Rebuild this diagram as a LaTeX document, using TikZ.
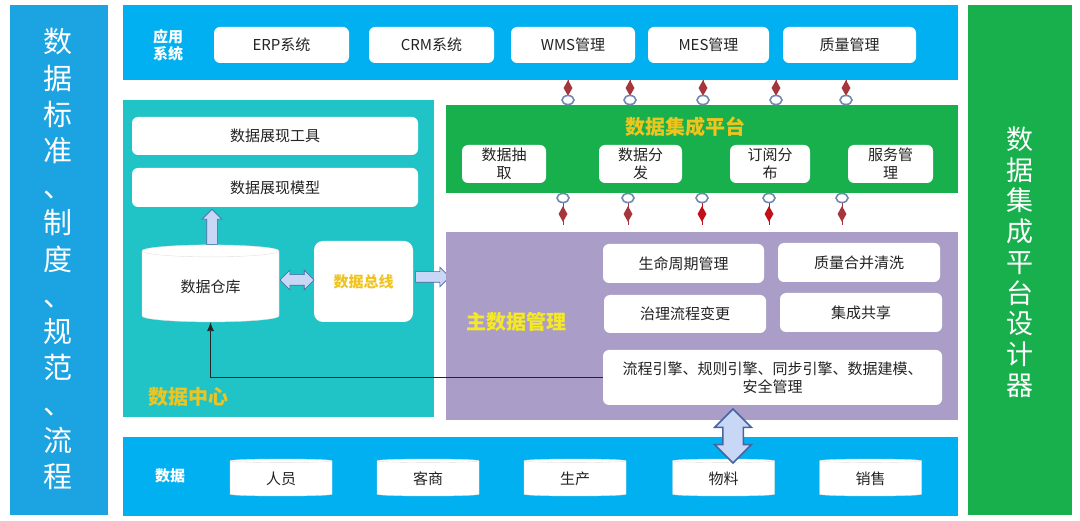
\documentclass[tikz,border=0pt]{standalone}
\usepackage{fontspec}
\setmainfont{Noto Sans CJK SC}
\usetikzlibrary{shapes.geometric,shapes.arrows,arrows.meta}
\definecolor{leftblue}{RGB}{27,163,226}
\definecolor{barblue}{RGB}{0,176,240}
\definecolor{greenA}{RGB}{24,176,76}
\definecolor{tealA}{RGB}{32,196,198}
\definecolor{purpA}{RGB}{170,158,200}
\definecolor{goldA}{RGB}{240,196,30}
\definecolor{yelA}{RGB}{245,232,40}
\definecolor{dredA}{RGB}{165,55,60}
\definecolor{bredA}{RGB}{195,15,25}
\definecolor{ringA}{RGB}{115,136,176}
\definecolor{arrfill}{RGB}{200,215,245}
\definecolor{arrline}{RGB}{70,100,160}
\definecolor{txtA}{RGB}{35,35,35}
\tikzset{
  wbox/.style={fill=white, rounded corners=6pt, align=center, inner sep=0pt, text=txtA, font=\fontsize{15}{18}\selectfont},
  panel/.style={inner sep=0pt, anchor=north west},
  dia/.style={diamond, inner sep=0pt, minimum width=9pt, minimum height=16pt},
  ringnode/.style={ellipse, draw=ringA, line width=1.6pt, fill=white, inner sep=0pt, minimum width=12pt, minimum height=9pt},
  cyl/.style={cylinder, shape border rotate=90, fill=white, draw=black!12, inner sep=0pt, text=txtA, font=\fontsize{15}{18}\selectfont},
  fatarrow/.style={fill=arrfill, draw=arrline, line width=0.6pt},
  titletxt/.style={font=\fontsize{20}{22}\selectfont\bfseries},
  smalltitle/.style={font=\fontsize{15}{17}\selectfont\bfseries, text=white, align=center}
}
\begin{document}
\begin{tikzpicture}[x=1pt,y=-1pt]
\useasboundingbox (0,0) rectangle (1080,521);
\fill[white] (0,0) rectangle (1080,521);
% side bars
\node[panel, fill=leftblue, minimum width=98pt, minimum height=510pt] (lbar) at (10,5) {};
\node[text=white, align=center, font=\fontsize{29}{36.2}\selectfont] (ltxt) at (58,259) {数\\据\\标\\准\\、\\制\\度\\、\\规\\范\\、\\流\\程};
\node[panel, fill=greenA, minimum width=104pt, minimum height=510pt] (rbar) at (968,5) {};
\node[text=white, align=center, font=\fontsize{27}{30.75}\selectfont] (rtxt) at (1020,262) {数\\据\\集\\成\\平\\台\\设\\计\\器};
% top bar
\node[panel, fill=barblue, minimum width=835pt, minimum height=75pt] (top) at (123,5) {};
\node[smalltitle] (toplab) at (168,45) {应用\\系统};
\node[wbox, minimum width=135pt, minimum height=36pt] (erp) at (281.5,45) {ERP系统};
\node[wbox, minimum width=125pt, minimum height=36pt] (crm) at (431.5,45) {CRM系统};
\node[wbox, minimum width=124pt, minimum height=36pt] (wms) at (573,45) {WMS管理};
\node[wbox, minimum width=121pt, minimum height=36pt] (mes) at (708.5,45) {MES管理};
\node[wbox, minimum width=133pt, minimum height=36pt] (qm) at (849.5,45) {质量管理};
% data center
\node[panel, fill=tealA, minimum width=311pt, minimum height=317pt] (dc) at (123,100) {};
\node[wbox, minimum width=286pt, minimum height=38pt] (tool) at (275,136) {数据展现工具};
\node[wbox, minimum width=286pt, minimum height=39pt] (model) at (275,187.5) {数据展现模型};
\node[cyl, minimum width=137pt, minimum height=77pt, aspect=0.2] (wh) at (210.5,286.5) {数据仓库};
\node[wbox, rounded corners=9pt, minimum width=99pt, minimum height=81pt, text=goldA, font=\fontsize{15}{18}\selectfont\bfseries] (bus) at (363.5,281.5) {数据总线};
\node[fatarrow, single arrow, shape border rotate=90, inner sep=5pt, minimum height=35pt, single arrow head extend=4.5pt] (uparr) at (212,229.5) {};
\node[fatarrow, double arrow, inner sep=5pt, minimum height=34pt, double arrow head extend=4.5pt] (lrarr) at (297,280) {};
\node[fatarrow, single arrow, inner sep=5pt, minimum height=34pt, single arrow head extend=4.5pt] (rarr) at (430,277) {};
\node[titletxt, text=goldA] (dclab) at (188,397) {数据中心};
% integration platform
\node[panel, fill=greenA, minimum width=512pt, minimum height=88pt] (ip) at (446,105) {};
\node[titletxt, text=goldA] (iplab) at (685,127) {数据集成平台};
\node[wbox, minimum width=84pt, minimum height=38pt] (ext) at (504,164) {数据抽\\取};
\node[wbox, minimum width=83pt, minimum height=38pt] (dist) at (640.5,164) {数据分\\发};
\node[wbox, minimum width=80pt, minimum height=38pt] (sub) at (770,164) {订阅分\\布};
\node[wbox, minimum width=85pt, minimum height=38pt] (svc) at (890.5,164) {服务管\\理};
% master data
\node[panel, fill=purpA, minimum width=512pt, minimum height=188pt] (md) at (446,232) {};
\node[titletxt, text=yelA] (mdlab) at (516,322) {主数据管理};
\node[wbox, minimum width=161pt, minimum height=39pt] (life) at (683.5,263.5) {生命周期管理};
\node[wbox, minimum width=162pt, minimum height=39pt] (qual) at (859,262.5) {质量合并清洗};
\node[wbox, minimum width=162pt, minimum height=38pt] (gov) at (685,314) {治理流程变更};
\node[wbox, minimum width=162pt, minimum height=39pt] (share) at (861,312.5) {集成共享};
\node[wbox, minimum width=339pt, minimum height=55pt] (eng) at (772.5,377.5) {流程引擎、规则引擎、同步引擎、数据建模、\\安全管理};
\draw[-{Latex[length=9pt,width=7pt]}, line width=0.8pt, black!85] (eng.west) -| (wh.south);
% bottom bar
\node[panel, fill=barblue, minimum width=835pt, minimum height=79pt] (bot) at (123,437) {};
\node[smalltitle] (botlab) at (170,476) {数据};
\node[cyl, minimum width=102pt, minimum height=37pt, aspect=0.12] (c1) at (281,478.5) {人员};
\node[cyl, minimum width=102pt, minimum height=37pt, aspect=0.12] (c2) at (428,478.5) {客商};
\node[cyl, minimum width=102pt, minimum height=37pt, aspect=0.12] (c3) at (575,478.5) {生产};
\node[cyl, minimum width=102pt, minimum height=37pt, aspect=0.12] (c4) at (723.5,478.5) {物料};
\node[cyl, minimum width=102pt, minimum height=37pt, aspect=0.12] (c5) at (870.5,478.5) {销售};
\node[fatarrow, double arrow, shape border rotate=90, inner sep=9.5pt, minimum height=54pt, double arrow head extend=8pt, line width=1.5pt] (vda) at (733,436) {};
% connectors top bar -> platform
\foreach \x [count=\i] in {568,630,703,776,846} {
  \draw[dredA, line width=1pt] (\x,80) -- (\x,92);
  \node[dia, fill=dredA] (td\i) at (\x,88) {};
  \node[ringnode] (tr\i) at (\x,100) {};
}
% connectors platform -> master data
\foreach \x/\c [count=\i] in {563/dredA,628/dredA,702/bredA,769/bredA,842/dredA} {
  \draw[\c, line width=1pt] (\x,200) -- (\x,225);
  \node[dia, fill=\c] (bd\i) at (\x,214) {};
  \node[ringnode] (br\i) at (\x,198) {};
}
\end{tikzpicture}
\end{document}
